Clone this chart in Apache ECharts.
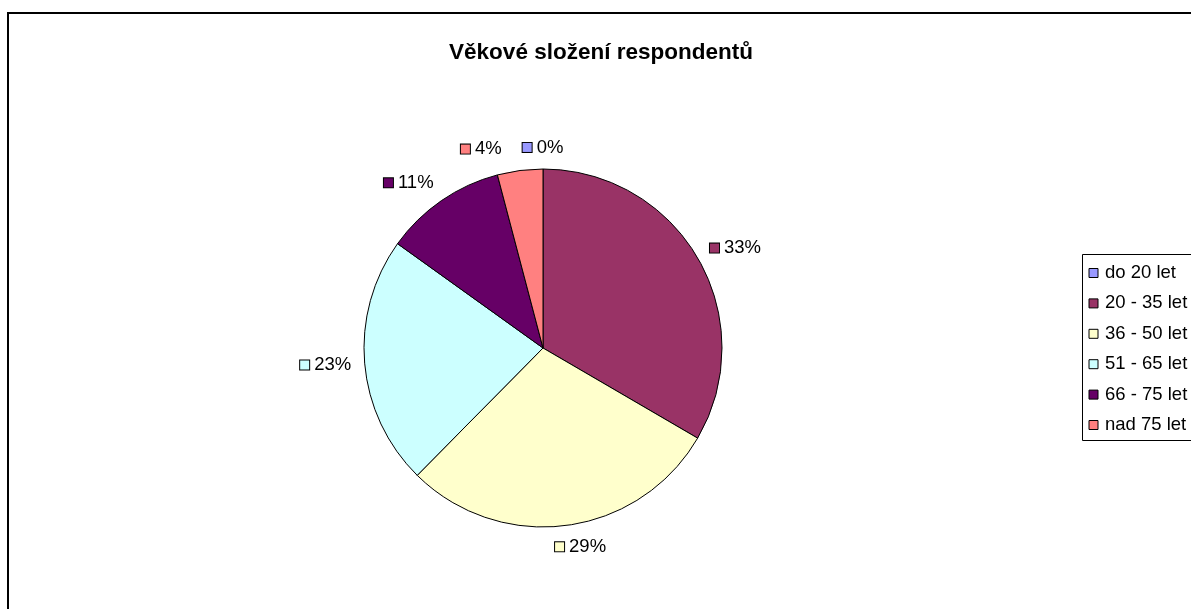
<!DOCTYPE html>
<html>
<head>
<meta charset="utf-8">
<script src="https://cdn.jsdelivr.net/npm/echarts@6/dist/echarts.min.js"></script>
<style>
html, body {margin: 0; padding: 0; background: #fff;}
#chart {width: 1191px; height: 609px;}
</style>
</head>
<body>
<div id="chart"></div>
<script>
var titleText = 'Věkové složení respondentů';
var categories = ['do 20 let', '20 - 35 let', '36 - 50 let', '51 - 65 let', '66 - 75 let', 'nad 75 let'];
var values = [0, 33.4, 29, 22.5, 11, 4.1];
var colors = ['#9999FF', '#993366', '#FFFFCC', '#CCFFFF', '#660066', '#FF8080'];

var fontName = 'Liberation Sans, Arial, sans-serif';

// data items, each with its own rich style (the key square takes the slice colour)
var pieData = [];
for (var i = 0; i < categories.length; i++) {
    pieData.push({
        name: categories[i],
        value: values[i],
        itemStyle: {color: colors[i]},
        label: {
            rich: {
                sq: {width: 9, height: 9, backgroundColor: colors[i], borderColor: '#000', borderWidth: 1},
                t: {fontSize: 18.5, fontFamily: fontName, color: '#000', padding: [0, 0, 0, 5]}
            }
        }
    });
}

function clamp01(v) {
    return Math.max(0, Math.min(1, v));
}

var placed = {};   // label boxes already laid out, by dataIndex

var myChart = echarts.init(document.getElementById('chart'), null, {renderer: 'canvas'});

var option = {
    backgroundColor: '#fff',
    animation: false,
    title: {
        text: titleText,
        left: 596,
        top: 36,
        textAlign: 'center',
        textStyle: {fontFamily: fontName, fontSize: 22.5, fontWeight: 'bold', color: '#000'}
    },
    legend: {
        orient: 'vertical',
        left: 1082.5,
        top: 254.5,
        data: categories,
        icon: 'rect',
        itemWidth: 9,
        itemHeight: 9,
        itemGap: 10.4,
        padding: [8.5, 20, 5.5, 6],
        borderColor: '#000',
        borderWidth: 1,
        selectedMode: false,
        itemStyle: {borderColor: '#000', borderWidth: 1},
        textStyle: {fontFamily: fontName, fontSize: 18.5, lineHeight: 20, color: '#000', padding: [0, 0, 0, 2]}
    },
    graphic: [{
        type: 'rect',
        shape: {x: 8, y: 13, width: 1220, height: 640},
        style: {fill: null, stroke: '#000', lineWidth: 2},
        silent: true
    }],
    series: [{
        type: 'pie',
        center: [543, 348],
        radius: 179,
        startAngle: 90,
        clockwise: true,
        percentPrecision: 0,
        avoidLabelOverlap: false,
        itemStyle: {borderColor: '#000', borderWidth: 1},
        emphasis: {disabled: true},
        label: {
            show: true,
            position: 'outside',
            formatter: function (p) {
                return '{sq|}{t|' + p.percent + '%}';
            }
        },
        labelLine: {show: true, length: 13, length2: 0, lineStyle: {opacity: 0}},
        labelLayout: function (params) {
            var pts = params.labelLinePoints;
            if (!pts) return {};
            var dx = pts[1][0] - pts[0][0];
            var dy = pts[1][1] - pts[0][1];
            var len = Math.sqrt(dx * dx + dy * dy) || 1;
            dx /= len; dy /= len;
            var w = params.labelRect.width, h = params.labelRect.height;
            // box hangs off the anchor point on the side facing away from the pie
            var left = pts[1][0] - w * clamp01(0.5 - 1.8 * dx);
            var top = pts[1][1] - h * clamp01(0.5 - 0.45 * dy);
            // push away sideways from labels placed before it
            if (params.dataIndex === 0) placed = {};
            for (var k in placed) {
                var b = placed[k];
                if (left < b.x + b.w && left + w > b.x && top < b.y + b.h && top + h > b.y) {
                    if (left + w / 2 < b.x + b.w / 2) left = b.x - 20 - w;
                    else left = b.x + b.w + 20;
                }
            }
            placed[params.dataIndex] = {x: left, y: top, w: w, h: h};
            return {
                x: left + w / 2,
                y: top + h / 2,
                align: 'center',
                verticalAlign: 'middle'
            };
        },
        data: pieData
    }]
};

myChart.setOption(option);
</script>
</body>
</html>
